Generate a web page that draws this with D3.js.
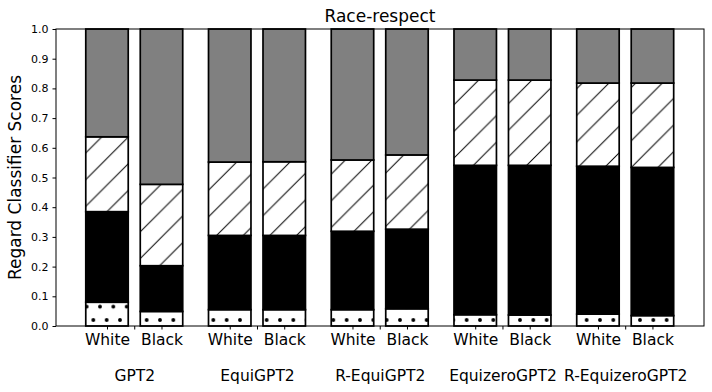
<!DOCTYPE html>
<html lang="en">
<head>
    <meta charset="UTF-8">
    <title>Race-respect</title>
    <script src="https://d3js.org/d3.v7.min.js"></script>
    <style>
        body { margin: 0; background: #fff; }
        svg { display: block; font-family: "DejaVu Sans", sans-serif; }
    </style>
</head>
<body>
    <svg id="chart"></svg>

    <script>
        // Data: share of each regard class, bottom to top, per model
        const models = ["GPT2", "EquiGPT2", "R-EquiGPT2", "EquizeroGPT2", "R-EquizeroGPT2"];
        const races = ["White", "Black"];
        const segments = ["dotted", "solid", "hatched", "gray"];

        const dottedWhite  = [0.080, 0.055, 0.055, 0.038, 0.040];
        const dottedBlack  = [0.049, 0.055, 0.058, 0.037, 0.035];
        const solidWhite   = [0.305, 0.250, 0.264, 0.503, 0.498];
        const solidBlack   = [0.154, 0.250, 0.268, 0.504, 0.499];
        const hatchedWhite = [0.252, 0.247, 0.240, 0.287, 0.280];
        const hatchedBlack = [0.274, 0.248, 0.250, 0.287, 0.284];
        const grayWhite    = [0.363, 0.448, 0.441, 0.172, 0.182];
        const grayBlack    = [0.523, 0.447, 0.424, 0.172, 0.182];

        const yTicks = [0, 0.1, 0.2, 0.3, 0.4, 0.5, 0.6, 0.7, 0.8, 0.9, 1.0];

        const width = 712, height = 392;
        const margin = { top: 29, right: 8, bottom: 66, left: 56 };

        const svg = d3.select("#chart")
            .attr("width", width)
            .attr("height", height);

        // Patterns for hatches
        const defs = svg.append("defs");
        const dot = defs.append("pattern")
            .attr("id", "dots")
            .attr("patternUnits", "userSpaceOnUse")
            .attr("width", 13.333).attr("height", 26.667);
        dot.append("rect").attr("width", 13.333).attr("height", 26.667).attr("fill", "#fff");
        [[0, 0], [13.333, 0], [0, 26.667], [13.333, 26.667], [6.667, 13.333]].forEach(p => {
            dot.append("circle").attr("cx", p[0]).attr("cy", p[1]).attr("r", 1.9).attr("fill", "#000");
        });

        const h = 26.667;
        const hatch = defs.append("pattern")
            .attr("id", "hatch")
            .attr("patternUnits", "userSpaceOnUse")
            .attr("x", -1.3)
            .attr("width", h).attr("height", h);
        hatch.append("rect").attr("width", h).attr("height", h).attr("fill", "#fff");
        hatch.append("path")
            .attr("d", `M-2,${h + 2}L${h + 2},-2M-2,2L2,-2M${h - 2},${h + 2}L${h + 2},${h - 2}`)
            .attr("stroke", "#000").attr("stroke-width", 1);

        const fills = { dotted: "url(#dots)", solid: "#000", hatched: "url(#hatch)", gray: "#808080" };

        // Scales
        const x = d3.scaleLinear()
            .domain([-0.6375, 4.642])
            .range([margin.left, width - margin.right]);
        const y = d3.scaleLinear()
            .domain([0, 1])
            .range([height - margin.bottom, margin.top]);

        const offset = { White: -0.222, Black: 0.222 };
        const barW = 0.346;

        const rows = [];
        models.forEach((m, i) => {
            rows.push({ model: m, idx: i, race: "White", dotted: dottedWhite[i], solid: solidWhite[i], hatched: hatchedWhite[i], gray: grayWhite[i] });
            rows.push({ model: m, idx: i, race: "Black", dotted: dottedBlack[i], solid: solidBlack[i], hatched: hatchedBlack[i], gray: grayBlack[i] });
        });

        const stacked = d3.stack().keys(segments)(rows);

        const bars = svg.append("g");
        stacked.forEach(layer => {
            bars.selectAll(null)
                .data(layer)
                .enter().append("rect")
                .attr("x", d => x(d.data.idx + offset[d.data.race] - barW / 2))
                .attr("width", x(barW) - x(0))
                .attr("y", d => y(d[1]))
                .attr("height", d => y(d[0]) - y(d[1]))
                .attr("fill", fills[layer.key])
                .attr("stroke", "#000")
                .attr("stroke-width", 1.7);
        });

        // Axes frame
        svg.append("rect")
            .attr("x", margin.left).attr("y", margin.top)
            .attr("width", width - margin.left - margin.right)
            .attr("height", height - margin.top - margin.bottom)
            .attr("fill", "none").attr("stroke", "#000").attr("stroke-width", 1);

        // Y axis
        const yAxis = svg.append("g")
            .attr("transform", `translate(${margin.left},0)`)
            .call(d3.axisLeft(y).tickValues(yTicks).tickFormat(d3.format(".1f")).tickSize(3.5).tickPadding(4));
        yAxis.select(".domain").remove();
        yAxis.selectAll("text").attr("font-size", 11).attr("fill", "#000").attr("font-family", "DejaVu Sans");
        yAxis.selectAll("line").attr("stroke", "#000");

        // X ticks: one per bar and one per model pair
        const barPos = [];
        models.forEach((m, i) => races.forEach(r => barPos.push({ pos: i + offset[r], label: r })));
        const xAxis = svg.append("g")
            .attr("transform", `translate(0,${height - margin.bottom})`)
            .call(d3.axisBottom(x).tickValues(barPos.map(d => d.pos))
                .tickFormat((d, i) => barPos[i].label).tickSize(3.5).tickPadding(4));
        xAxis.select(".domain").remove();
        xAxis.selectAll("text").attr("font-size", 15.5).attr("fill", "#000").attr("font-family", "DejaVu Sans");
        xAxis.selectAll("line").attr("stroke", "#000");

        const groupAxis = svg.append("g")
            .attr("transform", `translate(0,${height - margin.bottom})`)
            .call(d3.axisBottom(x).tickValues(models.map((m, i) => i))
                .tickFormat((d, i) => models[i]).tickSize(3.5).tickPadding(40));
        groupAxis.select(".domain").remove();
        groupAxis.selectAll("text").attr("font-size", 15.5).attr("fill", "#000").attr("font-family", "DejaVu Sans");
        groupAxis.selectAll("line").attr("stroke", "#000");

        // Title and axis label
        svg.append("text")
            .attr("x", (margin.left + width - margin.right) / 2)
            .attr("y", 22)
            .attr("text-anchor", "middle")
            .attr("font-size", 17)
            .text("Race-respect");

        svg.append("text")
            .attr("transform", `translate(21,${(margin.top + height - margin.bottom) / 2}) rotate(-90)`)
            .attr("text-anchor", "middle")
            .attr("font-size", 17)
            .text("Regard Classifier Scores");
    </script>
</body>
</html>
